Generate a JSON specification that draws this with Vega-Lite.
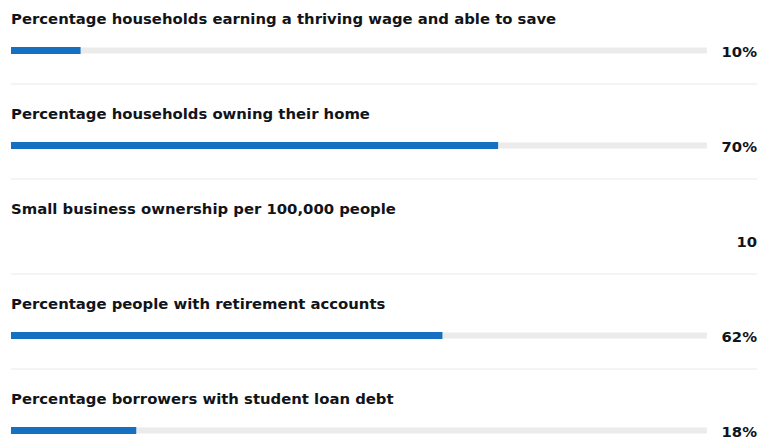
{
  "$schema": "https://vega.github.io/schema/vega-lite/v6.json",
  "width": 746,
  "height": 444,
  "autosize": {"type": "none"},
  "padding": {"left": 11, "top": 0, "right": 0, "bottom": 0},
  "background": "#ffffff",
  "config": {"view": {"stroke": null}},
  "data": {
    "values": [
      {"order": 1, "metric": "Percentage households earning a thriving wage and able to save", "value": 10, "label": "10%"},
      {"order": 2, "metric": "Percentage households owning their home", "value": 70, "label": "70%"},
      {"order": 3, "metric": "Small business ownership per 100,000 people", "value": null, "label": "10"},
      {"order": 4, "metric": "Percentage people with retirement accounts", "value": 62, "label": "62%"},
      {"order": 5, "metric": "Percentage borrowers with student loan debt", "value": 18, "label": "18%"}
    ]
  },
  "resolve": {"scale": {"y": "independent"}},
  "layer": [
    {
      "transform": [{"filter": "datum.order < 5"}],
      "mark": {"type": "bar", "color": "#eaeaea", "height": 1},
      "encoding": {
        "y": {"field": "order", "type": "ordinal", "scale": {"type": "point", "padding": 0.837, "align": 0.528}, "axis": null},
        "x": {"datum": 107.2, "type": "quantitative", "scale": {"domain": [0, 107.2], "nice": false, "zero": true}, "axis": null}
      }
    },
    {
      "encoding": {
        "y": {
          "field": "order",
          "type": "ordinal",
          "scale": {"type": "point", "padding": 0.3368, "align": 0.789},
          "axis": null
        }
      },
      "layer": [
        {
          "transform": [{"filter": "isValid(datum.value)"}],
          "mark": {"type": "bar", "color": "#ebebeb", "height": 6},
          "encoding": {
            "x": {"datum": 100, "type": "quantitative"}
          }
        },
        {
          "transform": [{"filter": "isValid(datum.value)"}],
          "mark": {"type": "bar", "color": "#1670c2", "height": 7},
          "encoding": {
            "x": {"field": "value", "type": "quantitative"}
          }
        },
        {
          "mark": {"type": "text", "align": "left", "baseline": "alphabetic", "dy": -26.5, "font": "DejaVu Sans", "fontWeight": "bold", "fontSize": 14.85, "color": "#111419"},
          "encoding": {
            "x": {"datum": 0, "type": "quantitative"},
            "text": {"field": "metric"}
          }
        },
        {
          "mark": {"type": "text", "align": "right", "baseline": "alphabetic", "dy": 7, "font": "DejaVu Sans", "fontWeight": "bold", "fontSize": 14.8, "color": "#111419"},
          "encoding": {
            "x": {"datum": 107.2, "type": "quantitative"},
            "text": {"field": "label"}
          }
        }
      ]
    }
  ]
}
